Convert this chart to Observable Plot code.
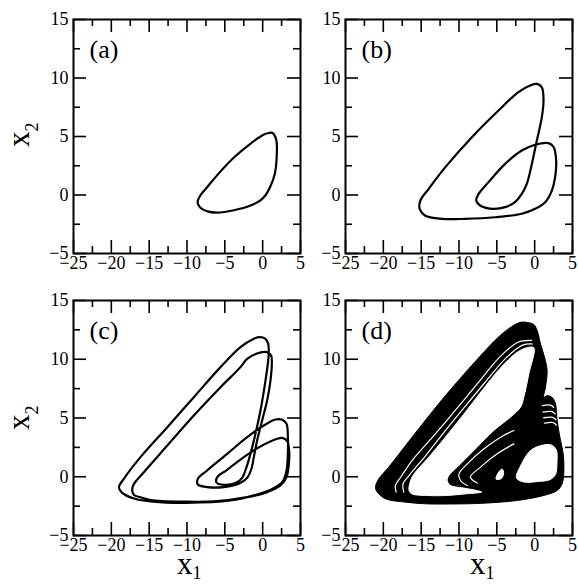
<!DOCTYPE html>
<html><head><meta charset="utf-8">
<script src="https://cdn.jsdelivr.net/npm/d3@7"></script>
<script src="https://cdn.jsdelivr.net/npm/@observablehq/plot@0.6"></script>
<style>
html,body{margin:0;padding:0;background:#fff;}
#fig{position:relative;width:578px;height:585px;overflow:hidden;font-family:"Liberation Serif",serif;}
#fig > svg{position:absolute;}
#fig svg, #fig svg text, #fig svg g{font-family:"Liberation Serif",serif !important;}
#fig g[aria-label="x-axis tick label"], #fig g[aria-label="y-axis tick label"],
#fig g[aria-label="x-axis tick label"] text, #fig g[aria-label="y-axis tick label"] text{font-size:18px !important;}
</style></head><body><div id="fig"></div>
<script>
// ---- axes ----
const xDomain = [-25, 5];
const yDomain = [-5, 15];
const xMajor = [-25, -20, -15, -10, -5, 0, 5];
const xMinor = [-22.5, -17.5, -12.5, -7.5, -2.5, 2.5];
const yMajor = [-5, 0, 5, 10, 15];
const yMinor = [-2.5, 2.5, 7.5, 12.5];
const xTickLabels = ["−25", "−20", "−15", "−10", "−5", "0", "5"];
const yTickLabels = ["−5", "0", "5", "10", "15"];
const panelLabels = ["(a)", "(b)", "(c)", "(d)"];
const xTitle = ["x", "1"];
const yTitle = ["x", "2"];

// ---- (a) period-1 orbit ----
const loopA = [[1.3,5.3],[1.8,4.7],[1.85,3.2],[1.6,1.8],[1.0,0.7],[0.4,0.0],[-0.3,-0.45],[-1.6,-0.9],[-3.8,-1.3],[-6.0,-1.5],[-7.3,-1.4],[-8.3,-1.05],[-8.6,-0.6],[-8.2,0.0],[-7.3,0.7],[-6.0,1.7],[-3.8,3.2],[-1.6,4.4],[0.1,5.15],[0.8,5.3]];

// ---- (b) period-2 orbit ----
const loopB = [[0.29,9.5],[0.95,9.2],[1.17,8.1],[0.95,6.65],[0.29,4.66],[-0.37,2.66],[-1.04,0.95],[-1.7,0.1],[-2.6,-0.6],[-3.9,-1.04],[-5.66,-1.18],[-7.2,-0.9],[-7.73,-0.47],[-7.4,0.1],[-6.1,1.1],[-3.9,2.66],[-1.7,3.8],[0.07,4.3],[1.83,4.43],[2.5,4.1],[2.84,2.95],[2.7,1.5],[2.27,0.38],[1.39,-0.61],[0.07,-1.18],[-1.7,-1.6],[-5.2,-1.9],[-9.2,-2.04],[-12.27,-2.04],[-14.5,-1.75],[-15.2,-1.18],[-15.1,-0.47],[-14.0,0.53],[-11.8,2.38],[-8.3,4.94],[-4.78,7.22],[-2.14,8.8],[-0.6,9.36]];

// ---- (c) period-4 orbit ----
const loopC = [[-18.6,-1.35],[-19.0,-0.89],[-18.35,-0.18],[-16.15,1.67],[-12.6,4.22],[-9.1,6.77],[-5.57,9.33],[-2.93,11.03],[-1.17,11.74],[-0.51,11.88],[0.37,11.74],[0.73,11.31],[0.81,10.6],[0.68,9.61],[0.24,7.63],[-0.29,5.64],[-0.95,3.65],[-1.61,1.95],[-2.14,0.82],[-2.71,-0.09],[-3.59,-0.54],[-5.13,-0.69],[-6.1,-0.49],[-6.0,-0.03],[-4.69,0.59],[-2.49,1.67],[-0.29,2.58],[1.92,3.23],[2.58,3.31],[3.24,3.03],[3.5,2.24],[3.46,1.1],[3.15,-0.03],[2.36,-0.74],[0.59,-1.31],[-2.05,-1.74],[-6.45,-2.1],[-10.4,-2.12],[-14.8,-1.98],[-16.15,-1.75],[-17.0,-1.55],[-17.25,-1.11],[-17.0,-0.6],[-15.7,0.39],[-12.6,2.66],[-9.1,5.21],[-5.57,7.62],[-2.93,9.33],[-2.05,10.04],[-0.07,10.6],[0.68,10.58],[1.12,10.32],[1.21,9.61],[1.03,8.19],[0.59,6.49],[-0.07,4.79],[-0.73,3.09],[-1.17,1.67],[-1.48,0.68],[-2.05,-0.09],[-3.15,-0.6],[-5.13,-0.88],[-7.34,-0.88],[-8.57,-0.66],[-8.57,-0.18],[-7.34,0.53],[-4.69,1.95],[-2.05,3.37],[0.15,4.36],[1.7,4.87],[2.58,4.85],[3.15,4.51],[3.33,3.37],[3.33,1.95],[3.15,0.53],[2.58,-0.46],[1.03,-1.11],[-1.17,-1.59],[-4.25,-2.02],[-10.0,-2.22],[-14.5,-2.12],[-17.0,-1.85]];

// ---- (d) chaotic attractor: filled silhouette, holes and gaps ----
const dOuter = [[-21.04,-0.89],[-20.6,-0.18],[-19.3,0.81],[-16.2,3.37],[-12.7,6.2],[-10.2,8.1],[-7.3,10.2],[-4.6,12.0],[-2.6,12.95],[-1.7,13.16],[-0.77,13.1],[-0.11,12.96],[0.33,12.45],[0.77,11.31],[1.3,10.18],[1.65,9.04],[1.43,7.63],[1.21,6.77],[1.65,6.9],[2.31,6.75],[2.75,6.21],[2.97,4.79],[3.33,3.37],[3.77,1.95],[3.86,0.53],[3.63,-0.6],[2.97,-1.17],[1.21,-1.59],[-2.31,-2.02],[-6.72,-2.25],[-11.12,-2.32],[-14.5,-2.3],[-17.07,-2.16],[-19.7,-1.88],[-20.8,-1.31]];
const dHoleBig = [[-16.6,-1.17],[-16.2,-0.04],[-14.0,1.66],[-11.8,3.37],[-9.4,5.3],[-7.0,7.3],[-4.6,9.2],[-2.3,10.6],[-0.9,11.0],[-0.11,10.97],[-0.77,8.76],[-1.43,6.77],[-1.87,5.92],[-3.2,5.07],[-5.4,3.94],[-8.04,2.24],[-10.24,0.82],[-11.34,0.11],[-11.56,-0.32],[-11.12,-0.74],[-9.5,-0.95],[-7.8,-1.15],[-7.0,-1.3],[-9.0,-1.45],[-11.8,-1.6],[-14.0,-1.6],[-16.2,-1.46]];
const dHoleRight = [[-2.4,-0.1],[-1.8,1.0],[-0.6,2.2],[0.8,2.65],[2.2,2.7],[2.85,2.3],[2.95,1.2],[2.75,0.2],[2.0,-0.25],[0.5,-0.4],[-1.4,-0.45]];
const dHoleSmall = [[-5.1,-0.2],[-4.8,0.35],[-4.3,0.65],[-4.1,0.35],[-4.4,-0.15]];
const dGap1 = [[-18.3,-1.31],[-18.4,-0.75],[-17.7,-0.04],[-16.2,1.38],[-13.5,3.37],[-10.5,5.64],[-7.6,7.9],[-4.6,10.2],[-2.2,11.45],[-0.4,11.6]];
const dGap2 = [[-17.3,-1.31],[-17.4,-0.6],[-16.6,0.1],[-14.4,1.8],[-11.8,3.93],[-9.3,5.9],[-6.6,8.0],[-3.8,10.1],[-1.6,11.2],[-0.3,11.3]];
const dGap3 = [[-8.9,-0.74],[-9.8,-0.32],[-10.0,0.25],[-8.9,1.1],[-6.7,2.38],[-4.5,3.37],[-2.75,3.94]];
const dGap4 = [[-7.6,-0.54],[-8.5,-0.03],[-7.16,0.82],[-4.96,1.95],[-2.75,2.8]];
const dBar1 = [[1.0,6.05],[2.1,6.1],[2.5,5.9]];
const dBar2 = [[1.1,5.5],[2.3,5.55],[2.7,5.35]];
const dBar3 = [[1.2,5.02],[2.4,5.05],[2.8,4.85]];
const dBar4 = [[1.3,4.56],[2.5,4.6],[2.85,4.4]];

const xLab = new Map(xMajor.map((v, i) => [v, xTickLabels[i]]));
const yLab = new Map(yMajor.map((v, i) => [v, yTickLabels[i]]));
const X = d => d[0], Y = d => d[1];
const FONT = "Liberation Serif";

const fig = document.getElementById("fig");
const FW = 227, ML = 73, MR = 2, MT = 19;

function panel({left, top, frameH, mb, label, marks}) {
  const majorLen = 13, minorLen = 7, tw = 1.6;
  const p = Plot.plot({
    width: ML + FW + MR, height: MT + frameH + mb,
    marginLeft: ML, marginRight: MR, marginTop: MT, marginBottom: mb,
    x: {domain: xDomain}, y: {domain: yDomain},
    style: {fontFamily: FONT, fontSize: "18px", background: "transparent", overflow: "visible", color: "black"},
    marks: [
      ...marks,
      Plot.tickX(xMajor, {x: d => d, insetTop: frameH - majorLen, stroke: "black", strokeWidth: tw}),
      Plot.tickX(xMajor, {x: d => d, insetBottom: frameH - majorLen, stroke: "black", strokeWidth: tw}),
      Plot.tickX(xMinor, {x: d => d, insetTop: frameH - minorLen, stroke: "black", strokeWidth: tw}),
      Plot.tickX(xMinor, {x: d => d, insetBottom: frameH - minorLen, stroke: "black", strokeWidth: tw}),
      Plot.tickY(yMajor, {y: d => d, insetRight: FW - majorLen, stroke: "black", strokeWidth: tw}),
      Plot.tickY(yMajor, {y: d => d, insetLeft: FW - majorLen, stroke: "black", strokeWidth: tw}),
      Plot.tickY(yMinor, {y: d => d, insetRight: FW - minorLen, stroke: "black", strokeWidth: tw}),
      Plot.tickY(yMinor, {y: d => d, insetLeft: FW - minorLen, stroke: "black", strokeWidth: tw}),
      Plot.axisX({ticks: xMajor, tickSize: 0, tickPadding: 3, tickFormat: d => xLab.get(d), fontSize: 18, fontFamily: FONT, label: null}),
      Plot.axisY({ticks: yMajor, tickSize: 0, tickPadding: 5, tickFormat: d => yLab.get(d), fontSize: 18, fontFamily: FONT, label: null}),
      Plot.frame({stroke: "black", strokeWidth: 2}),
      Plot.text([label], {frameAnchor: "top-left", text: d => d, dx: 16, dy: 20, fontSize: 26, fontFamily: FONT, lineAnchor: "top", textAnchor: "start"})
    ]
  });
  p.style.left = left + "px";
  p.style.top = top + "px";
  p.style.position = "absolute";
  fig.appendChild(p);
}

const orbit = (data) => Plot.line(data, {x: X, y: Y, curve: "catmull-rom-closed", stroke: "black", strokeWidth: 2.2});
const gap = (data, w) => Plot.line(data, {x: X, y: Y, curve: "catmull-rom", stroke: "white", strokeWidth: w});
const blob = (data, color) => Plot.line(data, {x: X, y: Y, curve: "catmull-rom-closed", fill: color, stroke: color, strokeWidth: 1});

panel({left: 0, top: 0, frameH: 234, mb: 37, label: panelLabels[0], marks: [orbit(loopA)]});
panel({left: 272, top: 0, frameH: 234, mb: 37, label: panelLabels[1], marks: [orbit(loopB)]});
panel({left: 0, top: 281, frameH: 235, mb: 50, label: panelLabels[2], marks: [orbit(loopC)]});
panel({left: 272, top: 281, frameH: 235, mb: 50, label: panelLabels[3], marks: [
  blob(dOuter, "black"), blob(dHoleBig, "white"), blob(dHoleRight, "white"), blob(dHoleSmall, "white"),
  gap(dGap1, 1.2), gap(dGap2, 1.2), gap(dGap3, 1.2), gap(dGap4, 1.2),
  gap(dBar1, 1.3), gap(dBar2, 1.3), gap(dBar3, 1.3), gap(dBar4, 1.3)
]});

// axis titles with subscripts
const ov = d3.select(fig).append("svg").attr("width", 578).attr("height", 585)
  .style("left", "0px").style("top", "0px").style("position", "absolute")
  .attr("font-family", FONT);
function title(sel, t, sub) {
  sel.attr("font-size", 31).attr("fill", "black").text(t[0]);
  sel.append("tspan").attr("font-size", 18).attr("dy", sub).text(t[1]);
}
[[177, 574], [470, 574]].forEach(([x, y]) => title(ov.append("text").attr("x", x).attr("y", y), xTitle, 5));
[[29, 147], [29, 430]].forEach(([x, y]) => title(ov.append("text").attr("transform", `translate(${x},${y}) rotate(-90)`), yTitle, 9));
</script></body></html>
